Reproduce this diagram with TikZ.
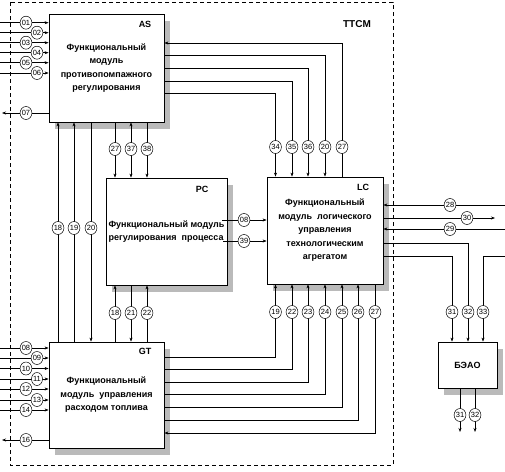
\documentclass[tikz,border=0pt]{standalone}
\usepackage{fontspec}
\setmainfont{Liberation Sans}
\usetikzlibrary{arrows.meta,shapes.geometric,shadows,calc}
\begin{document}
\begin{tikzpicture}[x=1pt,y=-1pt,
  >={Stealth[length=4pt,width=3pt]}, line width=0.6pt,
  box/.style={draw, line width=0.8pt, fill=white,
    general shadow={fill=black!27, shadow xshift=6pt, shadow yshift=-7pt},
    font=\bfseries\fontsize{9}{13.5}\selectfont, align=center, inner sep=0pt},
  lbl/.style={ellipse, draw, line width=0.5pt, fill=white, minimum width=11pt,
    minimum height=13pt, inner sep=0pt, font=\fontsize{7.5}{8}\selectfont},
  tag/.style={font=\bfseries\fontsize{9}{10}\selectfont}]
\useasboundingbox (0,0) rectangle (505,471);
\draw[dash pattern=on 4pt off 3pt, line width=0.6pt] (10,2) rectangle (393,465);
\node[tag, font=\bfseries\fontsize{10}{11}\selectfont] (tTT) at (357,24) {TTCM};

% boxes
\node[box, minimum width=115pt, minimum height=108pt] (AS) at (106.5,68)
  {Функциональный\\модуль\\противопомпажного\\регулирования};
\node[box, minimum width=121pt, minimum height=107pt, align=left] (PC) at (166.5,231.5)
  {Функциональный модуль\\регулирования\ \ процесса};
\node[box, minimum width=116pt, minimum height=107pt] (LC) at (325,230.5)
  {Функциональный\\модуль\ \ логического\\управления\\технологическим\\агрегатом};
\node[box, minimum width=115pt, minimum height=106pt] (GT) at (106.5,395)
  {Функциональный\\модуль\ \ управления\\расходом топлива};
\node[box, minimum width=59pt, minimum height=46pt] (BE) at (467.5,365) {БЭАО};

\node[tag] (tAS) at (145,24) {AS};
\node[tag] (tPC) at (202,189) {PC};
\node[tag] (tLC) at (363,187) {LC};
\node[tag] (tGT) at (145,351) {GT};

% inputs to AS
\foreach \n/\y in {01/22.7, 02/32.7, 03/42.7, 04/52.7, 05/62.7, 06/73} {
  \coordinate (ia\n) at (0,\y);
  \draw[->] (ia\n) -- (ia\n -| AS.west);
}
\coordinate (oa07) at (2,113);
\draw[->] (oa07 -| AS.west) -- (oa07);

% inputs to GT
\foreach \n/\y in {08/348, 09/358, 10/368.5, 11/379, 12/389, 13/400, 14/410} {
  \coordinate (ig\n) at (0,\y);
  \draw[->] (ig\n) -- (ig\n -| GT.west);
}
\coordinate (og16) at (2,440);
\draw[->] (og16 -| GT.west) -- (og16);

% AS <-> GT verticals
\coordinate (v18) at (58,0);
\coordinate (v19) at (74,0);
\coordinate (v20) at (91,0);
\draw[->] (GT.north -| v18) -- (AS.south -| v18);
\draw[->] (GT.north -| v19) -- (AS.south -| v19);
\draw[->] (AS.south -| v20) -- (GT.north -| v20);

% AS -> PC
\coordinate (p27) at (115,0);
\coordinate (p37) at (131,0);
\coordinate (p38) at (147,0);
\draw[->] (AS.south -| p27) -- (PC.north -| p27);
\draw[<->] (AS.south -| p37) -- (PC.north -| p37);
\draw[->] (AS.south -| p38) -- (PC.north -| p38);

% GT <-> PC
\draw[->] (GT.north -| p27) -- (PC.south -| p27);
\draw[->] (PC.south -| p37) -- (GT.north -| p37);
\draw[->] (GT.north -| p38) -- (PC.south -| p38);

% PC -> LC
\coordinate (h08) at (222,220);
\coordinate (h39) at (223,241);
\draw[->] (h08) -- (h08 -| LC.west);
\draw[->] (h39) -- (h39 -| LC.west);

% AS <-> LC top
\coordinate (k27) at (342,43);
\coordinate (k20) at (325,55);
\coordinate (k36) at (308,68);
\coordinate (k35) at (292,81);
\coordinate (k34) at (275.5,93);
\draw[->] (LC.north -| k27) -- (k27) -- (AS.east |- k27);
\foreach \k in {k20,k36,k35,k34} {
  \draw[->] (AS.east |- \k) -- (\k) -- (LC.north -| \k);
}

% GT <-> LC bottom
\coordinate (m19) at (275.5,357);
\coordinate (m22) at (292,369.5);
\coordinate (m23) at (308,382);
\coordinate (m24) at (325,394.5);
\coordinate (m25) at (342,407);
\coordinate (m26) at (358,420);
\coordinate (m27) at (375,433);
\foreach \k in {m19,m22,m23,m24,m25,m26} {
  \draw[->] (GT.east |- \k) -- (\k) -- (LC.south -| \k);
}
\draw[->] (LC.south -| m27) -- (m27) -- (GT.east |- m27);

% LC right side
\coordinate (e28) at (505,205);
\coordinate (e30) at (495,218);
\coordinate (e29) at (505,229);
\draw[->] (e28) -- (e28 -| LC.east);
\draw[->] (e30 -| LC.east) -- (e30);
\draw[->] (e29) -- (e29 -| LC.east);
\coordinate (r32) at (468,243);
\coordinate (r31) at (452,256);
\coordinate (e33) at (505,256);
\coordinate (r33) at (483,256);
\draw[->] (LC.east |- r32) -- (r32) -- (BE.north -| r32);
\draw[->] (LC.east |- r31) -- (r31) -- (BE.north -| r31);
\draw[->] (e33) -- (r33) -- (BE.north -| r33);

% BE outputs
\coordinate (b31) at (460,432);
\coordinate (b32) at (475,432);
\draw[->] (BE.south -| b31) -- (b31);
\draw[->] (BE.south -| b32) -- (b32);

% labels
\foreach \n/\x/\y in {01/26/22.7, 02/37/32.7, 03/26/42.7, 04/37/52.7, 05/26/62.7, 06/37/73, 07/26/113}
  \node[lbl] (la\n) at (\x,\y) {\n};
\foreach \n/\x/\y in {08/26/348, 09/37/358, 10/26/368.5, 11/37/379, 12/26/389, 13/37/400, 14/26/410, 16/26/440}
  \node[lbl] (lg\n) at (\x,\y) {\n};
\foreach \n/\x in {18/58, 19/74, 20/91}
  \node[lbl] (lv\n) at (\x,228) {\n};
\foreach \n/\x in {27/115, 37/131, 38/147}
  \node[lbl] (lp\n) at (\x,149) {\n};
\foreach \n/\x in {18/115, 21/131, 22/147}
  \node[lbl] (lq\n) at (\x,313) {\n};
\node[lbl] (lh08) at (244,220) {08};
\node[lbl] (lh39) at (244,241) {39};
\foreach \n/\x in {34/275.5, 35/292, 36/308, 20/325, 27/342}
  \node[lbl] (lk\n) at (\x,147) {\n};
\foreach \n/\x in {19/275.5, 22/292, 23/308, 24/325, 25/342, 26/358, 27/375}
  \node[lbl] (lm\n) at (\x,312) {\n};
\node[lbl] (le28) at (450,205) {28};
\node[lbl] (le30) at (467,218) {30};
\node[lbl] (le29) at (450,229) {29};
\foreach \n/\x in {31/452, 32/468, 33/483}
  \node[lbl] (lr\n) at (\x,312) {\n};
\node[lbl] (lb31) at (460,415) {31};
\node[lbl] (lb32) at (475,415) {32};
\end{tikzpicture}
\end{document}
